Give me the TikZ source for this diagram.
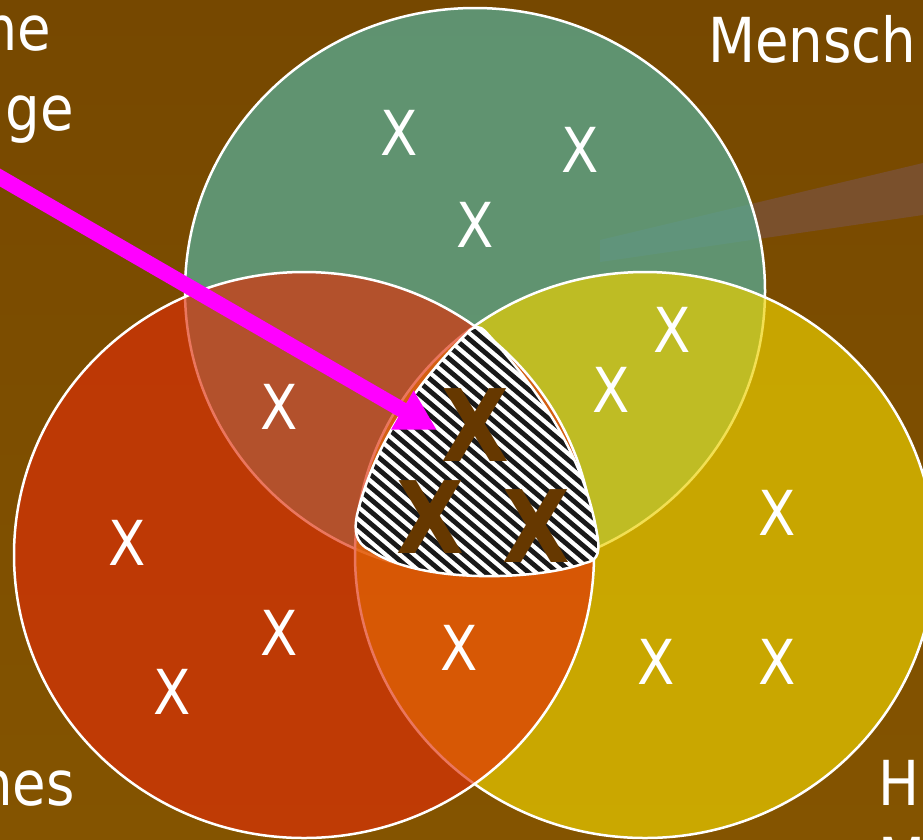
\documentclass[tikz,border=0pt]{standalone}
\usepackage{fontspec}
\setmainfont[FakeStretch=0.88]{DejaVu Sans}
\usetikzlibrary{arrows.meta}
\definecolor{bgtop}{RGB}{118,72,0}
\definecolor{bgmid}{RGB}{150,98,0}
\definecolor{bgbot}{RGB}{132,84,0}
\definecolor{tealring}{RGB}{88,172,150}
\definecolor{redring}{RGB}{224,46,8}
\definecolor{yellowring}{RGB}{236,208,0}
\definecolor{bandbrown}{RGB}{122,80,44}
\definecolor{darkx}{RGB}{102,56,0}
\definecolor{magentaarrow}{RGB}{255,0,255}
\begin{document}
\begin{tikzpicture}[x=1pt,y=-1pt,
    ring/.style={draw=white,line width=2.5pt},
    whitex/.style={text=white,inner sep=0pt,font=\fontsize{62}{74}\selectfont},
    brownx/.style={text=darkx,inner sep=0pt,font=\fontsize{100}{110}\selectfont\bfseries},
    word/.style={text=white,inner sep=0pt,font=\fontsize{62}{80}\selectfont},
    stripe/.style={black!90,line width=4.8pt}]
    \useasboundingbox (0,0) rectangle (923,839);
    \clip (0,0) rectangle (923,839);
    \fill[top color=bgtop,middle color=bgmid,bottom color=bgbot] (0,0) rectangle (923,839);
    \fill[bandbrown] (600,240) -- (923,163) -- (923,215) -- (600,262) -- cycle;

    % the three sets
    \fill[tealring,fill opacity=0.75] (475,291) circle[x radius=290,y radius=283];
    \draw[ring] (475,291) circle[x radius=290,y radius=283];
    \fill[yellowring,fill opacity=0.68] (645,555) circle[x radius=290,y radius=283];
    \draw[ring] (645,555) circle[x radius=290,y radius=283];
    \fill[redring,fill opacity=0.65] (304,555) circle[x radius=290,y radius=283];
    \draw[ring] (304,555) circle[x radius=290,y radius=283];

    % common part
    \begin{scope}
    \clip (470,330) .. controls (475,326) and (480,326) .. (485,331)
        .. controls (530,380) and (585,450) .. (598,540)
        .. controls (600,556) and (595,561) .. (585,563)
        .. controls (540,580) and (420,585) .. (370,550)
        .. controls (355,543) and (354,530) .. (357,515)
        .. controls (375,440) and (420,380) .. (470,330);
    \fill[white] (340,310) rectangle (620,600);
    \foreach \k in {0,...,50} \draw[stripe] (300,{\k*12.2}) -- ++(350,297.5);
    \end{scope}
    \draw[ring] (470,330) .. controls (475,326) and (480,326) .. (485,331)
        .. controls (530,380) and (585,450) .. (598,540)
        .. controls (600,556) and (595,561) .. (585,563)
        .. controls (540,580) and (420,585) .. (370,550)
        .. controls (355,543) and (354,530) .. (357,515)
        .. controls (375,440) and (420,380) .. (470,330);

    \node[whitex] (x1) at (399,133) {X};
    \node[whitex] (x2) at (580,150) {X};
    \node[whitex] (x3) at (475,225) {X};
    \node[whitex] (x4) at (672,330) {X};
    \node[whitex] (x5) at (611,390) {X};
    \node[whitex] (x6) at (279,407) {X};
    \node[whitex] (x7) at (127,543) {X};
    \node[whitex] (x8) at (777,513) {X};
    \node[whitex] (x9) at (279,633) {X};
    \node[whitex] (x10) at (172,692) {X};
    \node[whitex] (x11) at (459,648) {X};
    \node[whitex] (x12) at (656,662) {X};
    \node[whitex] (x13) at (777,662) {X};

    \node[brownx] (c1) at (475,425) {X};
    \node[brownx] (c2) at (430,517) {X};
    \node[brownx] (c3) at (536,526) {X};

    \node[word,anchor=base east] (tl1) at (51,50) {me};
    \node[word,anchor=base east] (tl2) at (74,130) {ge};
    \node[word,anchor=base west] (tr) at (708,62) {Mensch};
    \node[word,anchor=base east] (bl) at (75,805) {nes};
    \node[word,anchor=base west] (br1) at (878,805) {H};
    \node[word,anchor=base west] (br2) at (878,882) {M};

    \coordinate (tail) at (-20,166);
    \coordinate (aim) at (437,430);
    \draw[magentaarrow,line width=15.6pt,-{Triangle[length=40pt,width=42pt]}] (tail) -- (aim);
\end{tikzpicture}
\end{document}
